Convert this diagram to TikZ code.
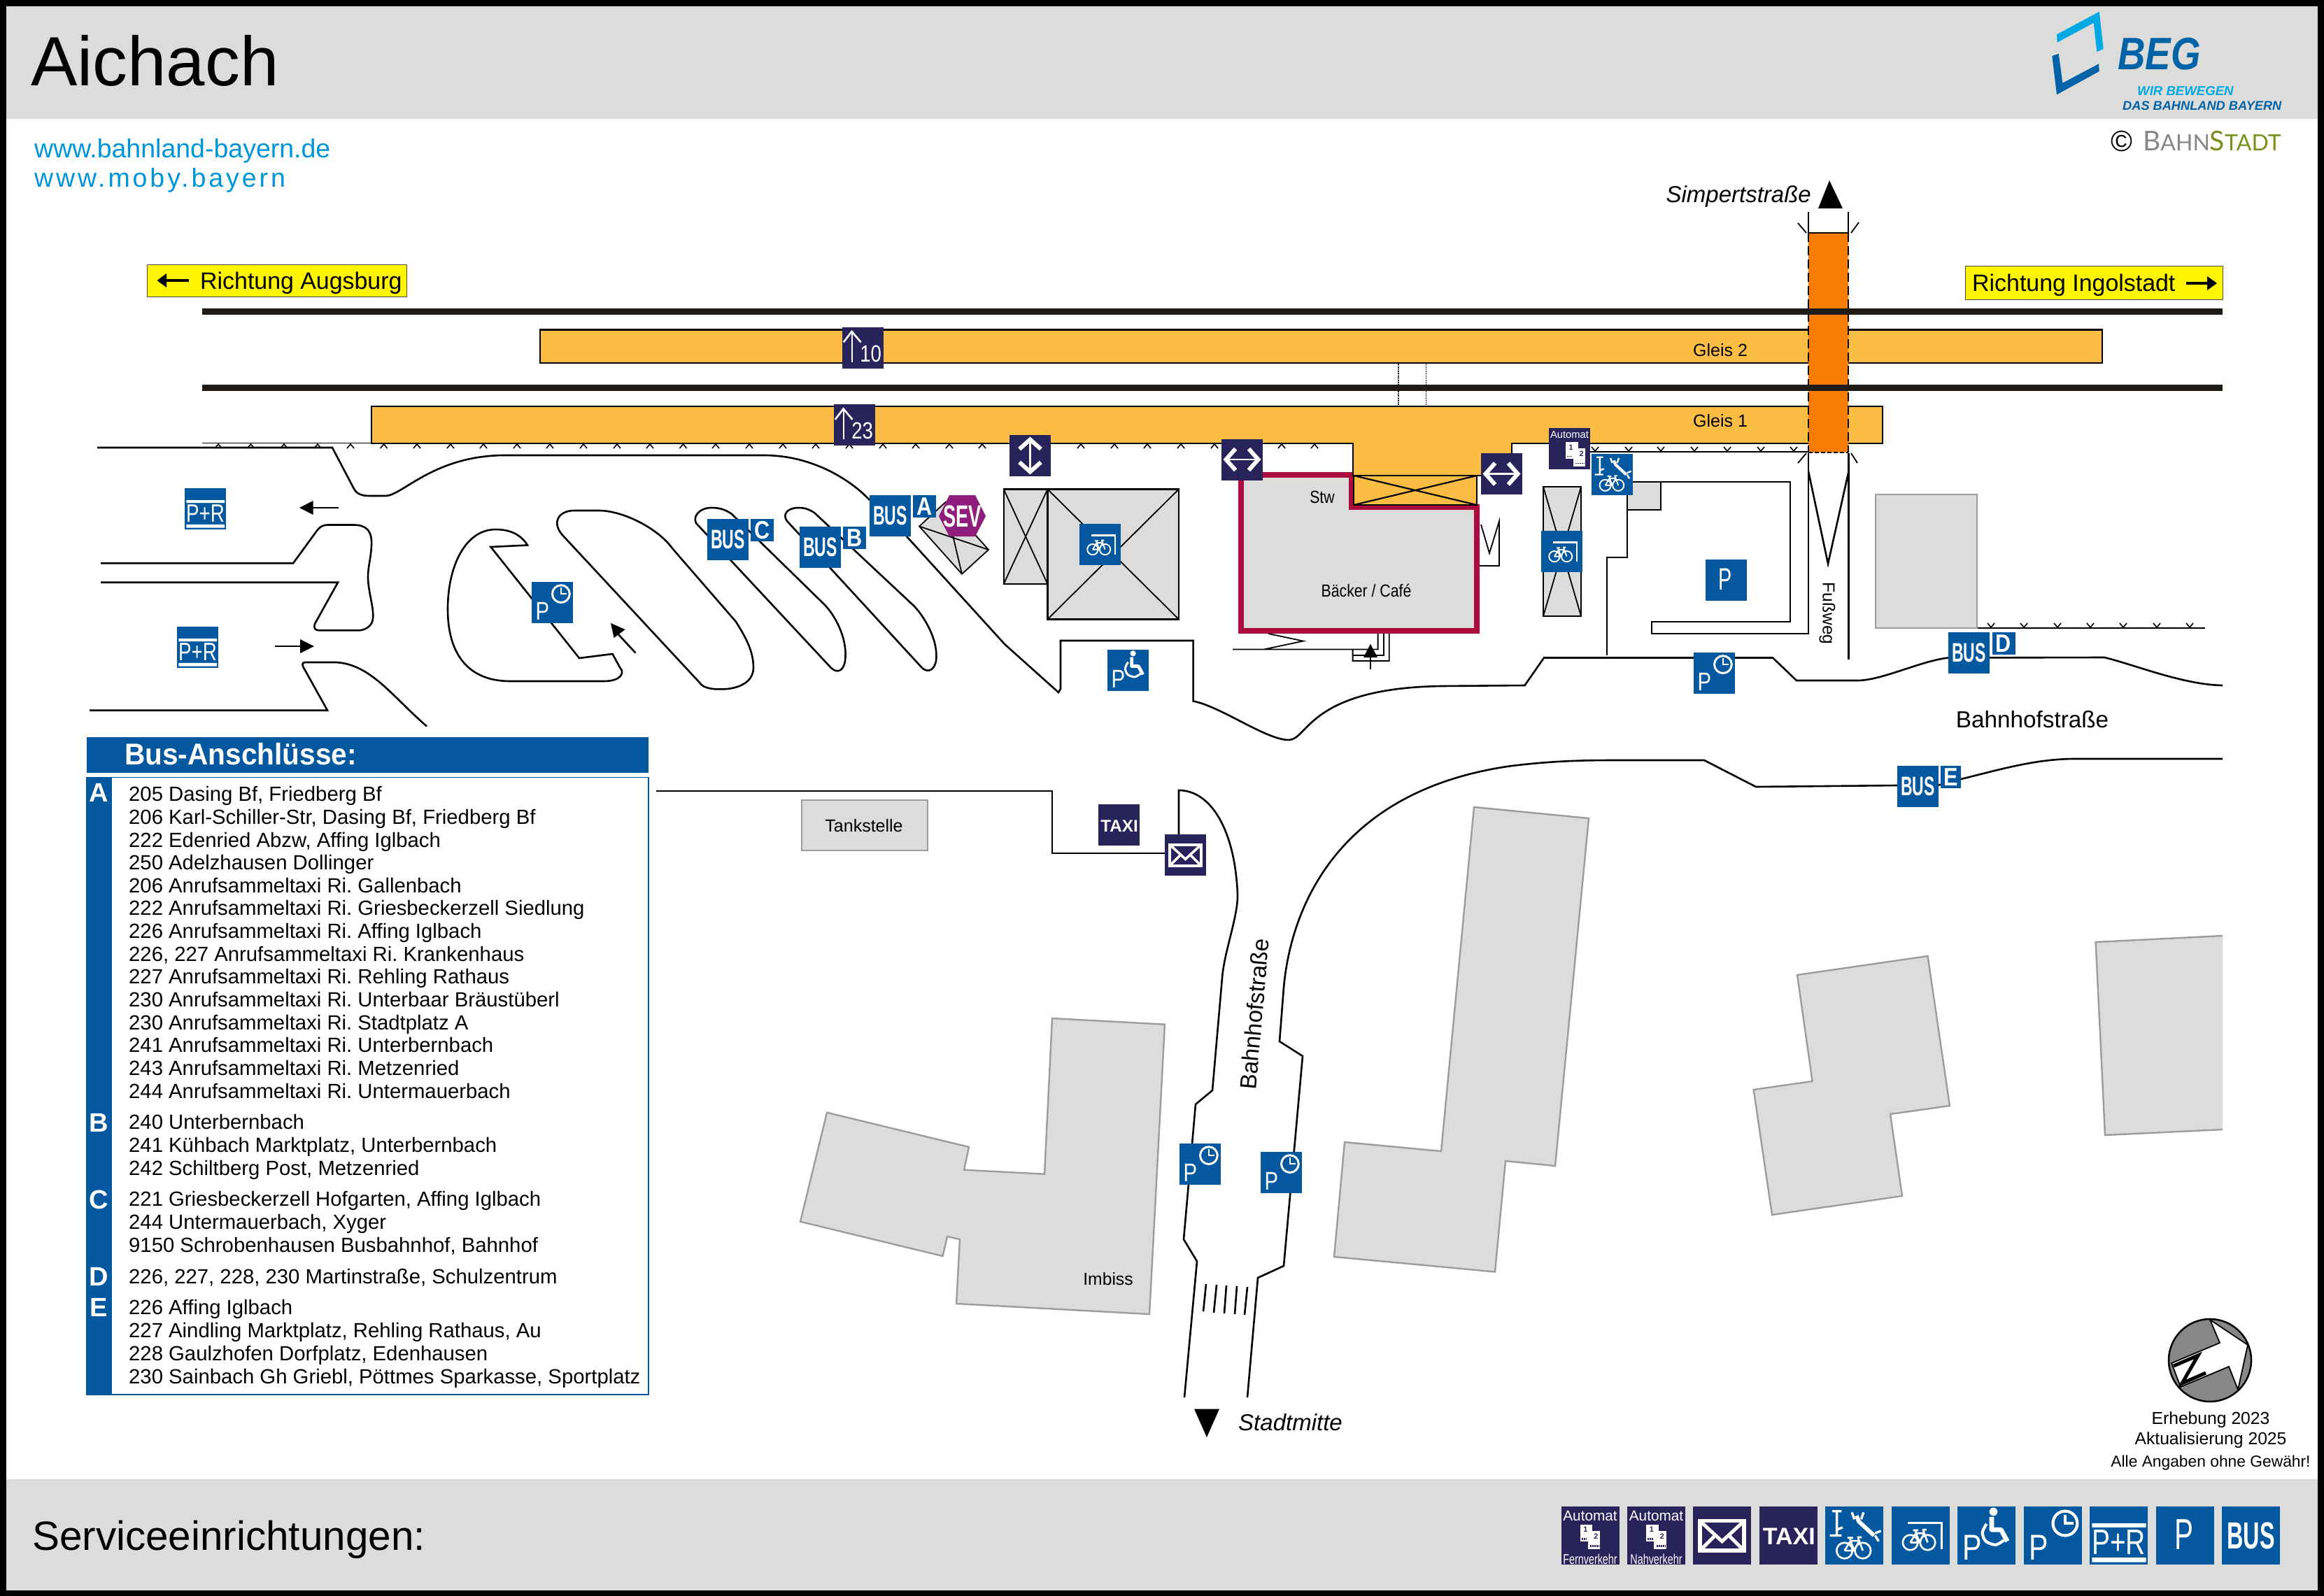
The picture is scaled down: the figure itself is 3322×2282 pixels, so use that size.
\documentclass[tikz,border=0pt]{standalone}
\usepackage{fontspec}
\usepackage{graphicx}
\setmainfont{Liberation Sans}
\newfontfamily\spacedfont[LetterSpace=10.5]{Liberation Sans}
\newfontfamily\latofont{Lato}
\definecolor{sblue}{HTML}{04589F}
\definecolor{snavy}{HTML}{29235C}
\definecolor{sgrey}{HTML}{DCDCDA}
\definecolor{sedge}{HTML}{9C9C9A}
\definecolor{splat}{HTML}{FBBD44}
\definecolor{sorange}{HTML}{F97C05}
\definecolor{sred}{HTML}{AD0A3E}
\definecolor{syellow}{HTML}{FFF500}
\definecolor{strack}{HTML}{1F1B16}
\definecolor{lblue}{HTML}{00A9E4}
\definecolor{dblue}{HTML}{0062A7}
\definecolor{urlblue}{HTML}{0095DB}
\definecolor{sgreen}{HTML}{76921C}
\definecolor{bgrey}{HTML}{878787}
\definecolor{sevcol}{HTML}{8F1D7C}
\frenchspacing
\newcommand\fs[1]{\fontsize{#1}{#1}\selectfont}
\newcommand\hsc[2]{\scalebox{#1}[1]{#2}}
% sign: x y size colour icon
\newcommand\sgn[5]{\begin{scope}[shift={(#1,#2)},scale=#3/100,transform shape]
  \pgfmathsetmacro\SC{#3/100}
  \fill[#4] (0,0) rectangle (100,100); #5 \end{scope}}
\newcommand\icoBus{\node[wt] at (50,50) {\fs{65}\bfseries\hsc{.6}{BUS}};}
\newcommand\icoP{\node[wt] at (49,48) {\fs{75}\hsc{.65}{P}};}
\newcommand\icoSmallP{\node[wt] at (26,71) {\fs{62}\hsc{.8}{P}};}
\newcommand\icoClock{\icoSmallP
  \draw[white,wl=5] (71,29) circle [radius=21];
  \draw[white,wl=4] (71,14) -- (71,29) -- (85,29);}
\newcommand\icoWheel{\icoSmallP
  \fill[white] (62,9) circle [radius=7];
  \draw[white,wl=8,line join=round] (59,18) -- (59,40) -- (75,40) -- (86,60);
  \draw[white,wl=5] plot[smooth] coordinates {(50,30) (43,45) (49,60) (66,66) (80,58)};}
\newcommand\icoPR{\fill[white] (4,29) rectangle (97,36) (4,88) rectangle (97,96);
  \node[wt] at (50,62) {\fs{61}\hsc{.77}{P+R}};}
\newcommand\bikeat[3]{\begin{scope}[shift={(#1,#2)},scale=#3]
  \draw[white,wl=3.2,line join=round] (-15,0) circle [radius=13] (15,0) circle [radius=13]
   (-15,0) -- (-5,-16) -- (9,-16) -- (15,0) (-5,-16) -- (1,0) -- (9,-16) (-15,0) -- (1,0)
   (9,-16) -- (7,-22) -- (13,-22) (-10,-21) -- (-1,-21) (-5,-16) -- (-6,-21);
 \end{scope}}
\newcommand\icoShelter{\draw[white,wl=3.5] (28,28) -- (86,28) -- (86,74); \bikeat{47}{62}{1}}
\newcommand\icoRepair{\draw[white,wl=4] (20,8) -- (20,50) (12,8) -- (28,8) (8,50) -- (28,50) (20,40) -- (30,36);
  \draw[white,wl=7] (54,16) -- (58,26) -- (84,50) ;
  \draw[white,wl=4] (46,10) -- (50,22) (66,10) -- (62,22) (96,42) -- (86,46) (92,60) -- (86,50);
  \bikeat{49}{76}{1.05}}
\newcommand\icoMail{\draw[white,wl=6.5] (12,25) rectangle (88,76);
  \draw[white,wl=6] (12,25) -- (50,60) -- (88,25) (12,76) -- (38,50) (88,76) -- (62,50);}
\newcommand\icoTaxi{\node[wt] at (51,52) {\fs{41}\bfseries TAXI};}
\newcommand\ticks[3]{\begin{scope}[shift={(#1,#2)},scale=#3]
  \fill[white] (0,0) rectangle (21,29); \fill[white] (13,11) rectangle (34,42);
  \node[text=snavy,inner sep=0pt] at (9,9) {\fs{13}\bfseries 1};
  \node[text=snavy,inner sep=0pt] at (27,20) {\fs{13}\bfseries 2};
  \draw[snavy,wl=2.5,dash pattern=on 2pt off 1pt] (2,25) -- (11,25) (17,37) -- (32,37);
 \end{scope}}
\newcommand\icoAutoF{\node[wt] at (50,16) {\fs{25}Automat}; \ticks{33}{31}{1}
  \node[wt] at (50,91) {\fs{24}\hsc{.72}{Fernverkehr}};}
\newcommand\icoAutoN{\node[wt] at (50,16) {\fs{25}Automat}; \ticks{33}{31}{1}
  \node[wt] at (50,91) {\fs{24}\hsc{.72}{Nahverkehr}};}
\newcommand\icoAutoM{\node[wt] at (50,16) {\fs{25}Automat}; \ticks{41}{34}{1.4}}
\newcommand\icoArr[1]{\draw[white,wl=3.5] (23,85) -- (23,11);
  \draw[white,wl=4.5] (3,37) -- (23,11) -- (45,37);
  \node[wt] at (69,65) {\fs{57}\hsc{.82}{#1}};}
\newcommand\icoUD{\draw[white,wl=4] (50,12) -- (50,88);
  \draw[white,wl=10] (24,34) -- (50,11) -- (76,34) (24,66) -- (50,89) -- (76,66);}
\newcommand\icoLR{\draw[white,wl=4] (12,50) -- (88,50);
  \draw[white,wl=10] (34,24) -- (11,50) -- (34,76) (66,24) -- (89,50) -- (66,76);}
\newcommand\tile[4]{\begin{scope}[shift={(#1,#2)}]\fill[sblue] (0,0) rectangle (#3,32);
  \node[wt] at (#3/2,16) {\fs{36}\bfseries\hsc{.85}{#4}};\end{scope}}
\tikzset{
  wl/.style={line width=#1*\SC pt},
  wt/.style={text=white,inner sep=0pt},
  lab/.style={inner sep=0pt,text=black},
  road/.style={draw=black,line width=2.6pt,line join=miter},
  thin road/.style={draw=black,line width=1.8pt},
  bld/.style={fill=sgrey,draw=sedge,line width=2.4pt},
  shed/.style={fill=sgrey,draw=black,line width=2.2pt},
  plat/.style={fill=splat,draw=black,line width=2.6pt},
  track/.style={draw=strack,line width=9pt},
  tickm/.style={draw=black,line width=1.6pt},
  ybox/.style={fill=syellow,draw=black!70,line width=1pt}
}
\begin{document}
\begin{tikzpicture}[x=1pt,y=-1pt]
\useasboundingbox (0,0) rectangle (3322,2282);
\fill[white] (0,0) rectangle (3322,2282);
% bands
\fill[sgrey] (0,0) rectangle (3322,170);
\fill[sgrey] (0,2115) rectangle (3322,2282);
\node[lab,anchor=base west] (title) at (44,123) {\fs{99.6}Aichach};
\node[lab,anchor=base west] (service) at (46,2216) {\fs{58.4}Serviceeinrichtungen:};
\node[lab,anchor=base west,text=urlblue] (url1) at (49,226) {\fs{37.5}www.bahnland-bayern.de};
\node[lab,anchor=base west,text=urlblue] (url2) at (49,268) {\fs{37.5}\spacedfont www.moby.bayern};
% logo
\fill[lblue] (2940,49.3) -- (3000.7,16.7) -- (3006.7,70) -- (2997.3,74) -- (2992.7,32.7) -- (2940.7,60.7) -- cycle;
\fill[dblue] (2933.3,80) -- (2942.7,76.7) -- (2948.3,118.7) -- (3000,91.3) -- (3000.7,102) -- (2940,135.3) -- cycle;
\node[lab,anchor=base west,text=dblue] (beg) at (3027,100) {\fs{65}\bfseries\itshape\hsc{.84}{BEG}};
\node[lab,anchor=base west,text=lblue] (wir) at (3055,137) {\fs{18.6}\bfseries\itshape WIR BEWEGEN};
\node[lab,anchor=base west,text=dblue] (das) at (3034,158) {\fs{18.2}\bfseries\itshape DAS BAHNLAND BAYERN};
\node[lab] (copy) at (3033,202) {\fs{42}©};
\node[lab,anchor=base west] (bahnstadt) at (3063,216) {\latofont\textcolor{bgrey}{\fs{39}B\fs{32}AHN}\textcolor{sgreen}{\fs{39}S\fs{32}TADT}};
% yellow direction boxes
\draw[ybox] (210,378) rectangle (581,424);
\node[lab,anchor=base west] (augs) at (286,413) {\fs{33.9}Richtung Augsburg};
\fill[black] (224.5,401) -- (238,391) -- (238,411) -- cycle;
\draw[black,line width=4pt] (236,401) -- (270,401);
\draw[ybox] (2809,380) rectangle (3177,428);
\node[lab,anchor=base west] (ingo) at (2819,416) {\fs{33.9}Richtung Ingolstadt};
\fill[black] (3169,405) -- (3155,395) -- (3155,415) -- cycle;
\draw[black,line width=4pt] (3125,405) -- (3157,405);
% red building
\draw[sred,fill=sgrey,line width=8pt,line join=miter] (1774,679) -- (1932,679) -- (1932,725) -- (2111,725) -- (2111,902) -- (1774,902) -- cycle;
% platforms
\draw[plat] (772,471.5) rectangle (3005,519);
\draw[plat] (531,581) -- (2691,581) -- (2691,634) -- (2161,634) -- (2161,680) -- (1934,680) -- (1934,634) -- (531,634) -- cycle;
\draw[black,line width=2.2pt,fill=splat] (1935,680) rectangle (2111,722);
\draw[black,line width=2.2pt] (1935,680) -- (2111,722) (1935,722) -- (2111,680);
\node[lab,anchor=base west] (gleis2) at (2420,509) {\fs{25}Gleis 2};
\node[lab,anchor=base west] (gleis1) at (2420,610) {\fs{25}Gleis 1};
\node[lab,anchor=base] (stw) at (1890,719) {\fs{25}\hsc{.85}{Stw}};
\node[lab,anchor=base] (baecker) at (1953,853) {\fs{25}\hsc{.85}{Bäcker / Café}};
% underpass dotted
\draw[black,line width=1.6pt,densely dotted] (1998.7,520) -- (1998.7,580) (2038.5,520) -- (2038.5,580);
% bridge
\fill[sorange] (2585,333) rectangle (2642,647);
\draw[black,line width=2.4pt,dash pattern=on 13pt off 6pt] (2585,333) -- (2585,647) (2642,333) -- (2642,647);
\draw[black,line width=2.4pt] (2585,333) -- (2642,333);
\draw[black,line width=2.4pt,dash pattern=on 6pt off 3pt] (2585,647) -- (2642,647);
\draw[thin road] (2585,303) -- (2585,333) (2642,303) -- (2642,333);
\draw[thin road] (2570,319) -- (2582,333) (2657,318) -- (2646,333);
\draw[thin road] (2570,662) -- (2582,648) (2655,662) -- (2646,648);
% tracks
\draw[track] (289,445) -- (3177,445);
\draw[track] (289,554) -- (3177,554);
% direction Simpert
\coordinate (simp) at (2615,258);
\fill[black] (simp) -- (2634,298) -- (2599,298) -- cycle;
\node[lab,anchor=base east] (simpert) at (2589,290) {\fs{33}\itshape Simpertstraße};
% ticks
\draw[thin road] (289,633.5) -- (531,633.5);
\foreach \x in {312,358.5,406,454,501,548.6,596,644,691,739,786,834,882,929,976.5,1023,1071,1119,1166,1214,1262,1309,1357,1404,1545,1593,1640,1688,1736,1832,1879}
  \draw[tickm] (\x-5,641) -- (\x,635) -- (\x+5,641);
\draw[thin road] (2273,645.6) -- (2585,645.6);
\foreach \x in {2280,2328,2374,2422,2469,2517,2564}
  \draw[tickm] (\x-5,639) -- (\x,645) -- (\x+5,639);
\draw[thin road] (2826,898) -- (3152,898);
\foreach \x in {2846,2893,2941,2988,3035,3083,3130}
  \draw[tickm] (\x-5,891) -- (\x,897) -- (\x+5,891);
% left roads
\draw[road] (139,640) -- (475,640) -- (506,699) .. controls (511,708) and (520,709) .. (530,709) -- (551,709) .. controls (575,709) and (620,651) .. (722,651) -- (1092,651) .. controls (1165,651) and (1220,690) .. (1243,715);
\draw[road] (144,805.4) -- (419,805.4) -- (452.5,759.5) .. controls (458,752) and (462,750.5) .. (470,750.5) -- (505,750.5) .. controls (525,750.5) and (532,760) .. (531,780) .. controls (530,800) and (526,810) .. (526,825) .. controls (526,845) and (535,870) .. (533,885) .. controls (532,895) and (522,901.4) .. (512,901.4) -- (456,901.4) .. controls (450,901) and (448,898) .. (450,892) -- (483,832.7) -- (144,832.7);
\draw[road] (128,1015.7) -- (468,1015.7) -- (433.5,953.7) .. controls (431,948) and (433,947) .. (438,947) -- (480.5,947) .. controls (530,950) and (560,995) .. (610,1038.5);
% islands
\draw[road] (701.5,782) -- (754,779.5) .. controls (745,765) and (730,757) .. (708.5,757) .. controls (665,757) and (640,810) .. (640,871) .. controls (640,930) and (665,974) .. (729.6,974) -- (863,974) .. controls (890,974) and (892,960) .. (887,956) -- (875.5,935) -- (828,941) -- cycle;
\draw[road] (803,764) -- (1000,976) .. controls (1006,986) and (1025,986) .. (1040,985) .. controls (1065,982) and (1077,970) .. (1077,955) .. controls (1077,930) and (1065,910) .. (1052,889) -- (961,784) .. controls (940,755) and (890,730) .. (856,730) -- (821,730) .. controls (800,730) and (788,745) .. (803,764) -- cycle;
\draw[road] (995,748) -- (1187.5,954.5) .. controls (1195,962) and (1205,962) .. (1208,945) .. controls (1212,915) and (1195,880) .. (1176,862) -- (1046,735) .. controls (1035,727) and (1025,726) .. (1017,726) .. controls (1000,726) and (990,738) .. (995,748) -- cycle;
\draw[road] (1125,745) -- (1317.6,954.5) .. controls (1325,962) and (1335,960) .. (1338,945) .. controls (1342,915) and (1320,880) .. (1306,866) -- (1164.5,733.5) .. controls (1155,727) and (1148,726) .. (1141.6,726) .. controls (1125,726) and (1118,736) .. (1125,745) -- cycle;
% arrows
\draw[black,line width=2.6pt] (484,726) -- (440,726);
\fill[black] (428,726) -- (447.5,716) -- (447.5,736) -- cycle;
\draw[black,line width=2.6pt] (393,924) -- (435,924);
\fill[black] (449,924) -- (429,914) -- (429,934) -- cycle;
\draw[black,line width=2.6pt] (908.5,933.6) -- (882,905);
\fill[black] (873,891) -- (877.6,912) -- (893.7,900) -- cycle;
% SEV shed
\draw[shed,line width=1.8pt] (1314,752.5) -- (1352,717.6) -- (1413,786) -- (1375,820.7) -- cycle;
\draw[black,line width=1.8pt] (1314,752.5) -- (1413,786) (1363,770) -- (1375,820.7) (1363,770) -- (1352,717.6);
% bike sheds
\draw[shed] (1434.7,699.5) rectangle (1497.4,835);
\draw[black,line width=1.8pt] (1434.7,699.5) -- (1497.4,835) (1434.7,835) -- (1497.4,699.5);
\draw[shed] (1497.4,699.5) rectangle (1685,885.5);
\draw[black,line width=1.8pt] (1497.4,699.5) -- (1685,885.5) (1497.4,885.5) -- (1685,699.5);
\draw[shed] (2206,696) rectangle (2260,881);
\draw[black,line width=1.8pt] (2206,696) -- (2260,881) (2206,881) -- (2260,696);
% main road with stations
\draw[road] (1296,767) -- (1436,921) -- (1513,990) -- (1516,985) -- (1516,916) -- (1705.6,916) -- (1705.6,1002.5) .. controls (1745,1010) and (1810,1058) .. (1842,1058) .. controls (1870,1058) and (1870,984) .. (2060,981) -- (2179.5,980) -- (2207,940.5) -- (2534,940.5) -- (2568,973) -- (2655,973) .. controls (2690,973) and (2745,945) .. (2785,940.5) -- (3008,940) .. controls (3050,950) and (3120,979) .. (3177,980);
% steps below the building
\draw[thin road] (1813,906) -- (1863,916.6) -- (1807,928.4) (1762,928.4) -- (1933.6,928.4) -- (1933.6,945) -- (1985.7,945) -- (1985.7,906) (1933.6,937) -- (1978,937) -- (1978,906) (1933.6,928.4) -- (1969.6,928.4) -- (1969.6,906);
\draw[black,line width=1.8pt] (1959,956.6) -- (1959,930);
\fill[black] (1959,920.8) -- (1949,940) -- (1969,940) -- cycle;
% right of the building
\draw[thin road] (2115,809) -- (2143,809) -- (2143,745) -- (2129,791) -- (2117,750);
% parking right
\fill[sgrey] (2326,689) rectangle (2374,729);
\draw[road] (2326,729) -- (2374,729) -- (2374,689) -- (2326,689);
\draw[road] (2297,937) -- (2297,797) -- (2326,797) -- (2326,689);
\draw[road] (2374,689) -- (2559,689) -- (2559,889) -- (2361,889) -- (2361,906) -- (2585,906) -- (2585,648);
\draw[road] (2642.5,648) -- (2642.5,942.5);
\draw[road] (2585,674) -- (2613,806) -- (2642.5,674);
\draw[road] (2161,634) -- (2161,648);
\node[lab,rotate=-90] (fuss) at (2612,877) {\fs{24.5}Fußweg};
\draw[bld] (2680.7,707) rectangle (2826,898);
\node[lab,anchor=base] (bhf) at (2905,1040) {\fs{33.3}Bahnhofstraße};
% south roads
\draw[road] (938,1131) -- (1504,1131) -- (1504,1220) -- (1665,1220);
\draw[road] (1685,1193) -- (1685,1130) .. controls (1730,1130) and (1765,1185) .. (1769,1278) .. controls (1770,1310) and (1750,1360) .. (1747,1398) -- (1733,1559) -- (1709,1579) -- (1692,1772) -- (1711,1803.5) -- (1693,1998);
\draw[road] (1783,1998) -- (1798,1827) -- (1835,1810) -- (1862,1510) -- (1829,1489) -- (1835,1412) .. controls (1845,1300) and (1910,1130) .. (2161,1095) .. controls (2220,1088) and (2260,1087) .. (2309,1087) -- (2436,1087) -- (2510,1125) -- (2712,1123);
\draw[road] (2769,1123) -- (2803,1114) .. controls (2860,1100) and (2910,1085) .. (2966,1085) -- (3177,1085);
% crosswalk
\draw[road] (1724,1836) -- (1720,1875) (1739,1837) -- (1735,1877) (1753,1838) -- (1750,1878) (1768,1839) -- (1765,1879) (1783,1840) -- (1779,1880);
\fill[black] (1707,2014.5) -- (1743,2014.5) -- (1725,2055) -- cycle;
\node[lab,anchor=base west] (stadt) at (1770,2045) {\fs{33}\itshape Stadtmitte};
\node[lab,rotate=85] (bhf2) at (1793,1450) {\fs{33}Bahnhofstraße};
% Tankstelle
\draw[bld] (1146,1144) rectangle (1326,1216);
\node[lab,anchor=base] (tank) at (1235,1189) {\fs{25}Tankstelle};
% buildings
\draw[bld] (1182,1590.7) -- (1385,1640) -- (1378,1672.7) -- (1493,1678.7) -- (1504,1456) -- (1665,1464.7) -- (1643,1879) -- (1367,1864) -- (1372,1772) -- (1354,1768) -- (1347.5,1796) -- (1144,1746.7) -- cycle;
\node[lab,anchor=base] (imbiss) at (1584,1837) {\fs{24.7}Imbiss};
\draw[bld] (2107,1154) -- (2271,1170) -- (2223,1667) -- (2152,1660) -- (2137,1818.5) -- (1907,1797) -- (1922,1633) -- (2060,1646) -- cycle;
\draw[bld] (2569,1394) -- (2755.5,1367) -- (2787,1581) -- (2702,1593) -- (2719,1710) -- (2533,1737) -- (2506.6,1558) -- (2590.6,1546) -- cycle;
\fill[sgrey] (3177,1338) -- (2995.6,1347) -- (3009,1623) -- (3177,1615) -- cycle;
\draw[sedge,line width=2.4pt] (3177,1338) -- (2995.6,1347) -- (3009,1623) -- (3177,1615);
% compass
\fill[bgrey,draw=black,line width=2.5pt] (3159,1945) circle [radius=59];
\draw[fill=white,draw=black,line width=1.8pt] (3104,1949) -- (3173,1920) -- (3159,1887) -- (3213,1923) -- (3199,1987) -- (3186,1954) -- (3117,1983) -- cycle;
\draw[black,line width=5pt,line join=miter] (3107,1953) -- (3142,1938) -- (3119,1978) -- (3153,1963);
\node[lab,anchor=base] (erh) at (3160,2036) {\fs{24.7}Erhebung 2023};
\node[lab,anchor=base] (akt) at (3160,2065) {\fs{24.7}Aktualisierung 2025};
\node[lab,anchor=base] (alle) at (3160,2097) {\fs{22.8}Alle Angaben ohne Gewähr!};
% bus panel
\fill[sblue] (123.5,1054) rectangle (927,1105);
\node[wt,anchor=base west] (busttl) at (178,1093) {\fs{43}\bfseries\hsc{.945}{Bus-Anschlüsse:}};
\draw[sblue,line width=1.5pt,fill=white] (123.5,1111.7) rectangle (927,1994);
\fill[sblue] (123.5,1111.7) rectangle (160,1994);
\foreach \n/\yy/\tt in {a/1133/A,b/1605/B,c/1715/C,d/1825/D,e/1869/E}
  \node[wt,inner sep=0pt] (let\n) at (141.6,\yy) {\fs{38}\bfseries\tt};
\foreach \yy/\tt in {
 1145/{205 Dasing Bf, Friedberg Bf},
 1178/{206 Karl-Schiller-Str, Dasing Bf, Friedberg Bf},
 1211/{222 Edenried Abzw, Affing Iglbach},
 1243/{250 Adelzhausen Dollinger},
 1276/{206 Anrufsammeltaxi Ri. Gallenbach},
 1308/{222 Anrufsammeltaxi Ri. Griesbeckerzell Siedlung},
 1341/{226 Anrufsammeltaxi Ri. Affing Iglbach},
 1374/{226, 227 Anrufsammeltaxi Ri. Krankenhaus},
 1406/{227 Anrufsammeltaxi Ri. Rehling Rathaus},
 1439/{230 Anrufsammeltaxi Ri. Unterbaar Bräustüberl},
 1472/{230 Anrufsammeltaxi Ri. Stadtplatz A},
 1504/{241 Anrufsammeltaxi Ri. Unterbernbach},
 1537/{243 Anrufsammeltaxi Ri. Metzenried},
 1570/{244 Anrufsammeltaxi Ri. Untermauerbach},
 1614/{240 Unterbernbach},
 1647/{241 Kühbach Marktplatz, Unterbernbach},
 1680/{242 Schiltberg Post, Metzenried},
 1724/{221 Griesbeckerzell Hofgarten, Affing Iglbach},
 1757/{244 Untermauerbach, Xyger},
 1790/{9150 Schrobenhausen Busbahnhof, Bahnhof},
 1835/{226, 227, 228, 230 Martinstraße, Schulzentrum},
 1879/{226 Affing Iglbach},
 1912/{227 Aindling Marktplatz, Rehling Rathaus, Au},
 1945/{228 Gaulzhofen Dorfplatz, Edenhausen},
 1978/{230 Sainbach Gh Griebl, Pöttmes Sparkasse, Sportplatz}}
  \node[lab,anchor=base west] at (184,\yy) {\fs{29.3}\tt};
% signs on the map
\sgn{1204}{467.5}{59}{snavy}{\icoArr{10}}
\sgn{1192}{578}{59}{snavy}{\icoArr{23}}
\sgn{1443}{622}{59}{snavy}{\icoUD}
\sgn{1746}{627.5}{59}{snavy}{\icoLR}
\sgn{2117}{648}{59}{snavy}{\icoLR}
\sgn{2214}{612}{59}{snavy}{\icoAutoM}
\sgn{2275}{649}{59}{sblue}{\icoRepair}
\sgn{2203}{759}{59}{sblue}{\icoShelter}
\sgn{1543}{749}{59}{sblue}{\icoShelter}
\sgn{1583}{929}{59}{sblue}{\icoWheel}
\sgn{2437.5}{800}{59}{sblue}{\icoP}
\sgn{2421}{933}{59}{sblue}{\icoClock}
\sgn{760}{832}{59}{sblue}{\icoClock}
\sgn{1686}{1635}{59}{sblue}{\icoClock}
\sgn{1802}{1647}{59}{sblue}{\icoClock}
\sgn{264}{698}{59}{sblue}{\icoPR}
\sgn{253}{896}{59}{sblue}{\icoPR}
\sgn{1011}{742}{59}{sblue}{\icoBus}
\sgn{1143}{753}{59}{sblue}{\icoBus}
\sgn{1243}{708}{59}{sblue}{\icoBus}
\sgn{2785}{904}{59}{sblue}{\icoBus}
\sgn{2712}{1095}{59}{sblue}{\icoBus}
\tile{1073}{742}{33}{C}
\tile{1205}{753}{33}{B}
\tile{1305}{708}{33}{A}
\tile{2847.5}{904}{33}{D}
\tile{2774}{1095}{29}{E}
\sgn{1570}{1150}{59}{snavy}{\icoTaxi}
\sgn{1665}{1193}{59}{snavy}{\icoMail}
\fill[sevcol] (1342,738) -- (1357,708) -- (1394,708) -- (1409,738) -- (1394,767) -- (1357,767) -- cycle;
\node[wt] (sev) at (1375.5,738) {\fs{44}\bfseries\hsc{.62}{SEV}};
% legend
\sgn{2231.5}{2154}{83}{snavy}{\icoAutoF}
\sgn{2326}{2154}{83}{snavy}{\icoAutoN}
\sgn{2420}{2154}{83}{snavy}{\icoMail}
\sgn{2515}{2154}{83}{snavy}{\icoTaxi}
\sgn{2609}{2154}{83}{sblue}{\icoRepair}
\sgn{2704}{2154}{83}{sblue}{\icoShelter}
\sgn{2798}{2154}{83}{sblue}{\icoWheel}
\sgn{2893}{2154}{83}{sblue}{\icoClock}
\sgn{2987}{2154}{83}{sblue}{\icoPR}
\sgn{3081.6}{2154}{83}{sblue}{\icoP}
\sgn{3176}{2154}{83}{sblue}{\icoBus}
% frame
\draw[black,line width=9pt] (4.5,4.5) rectangle (3317.5,2278);
\end{tikzpicture}
\end{document}
